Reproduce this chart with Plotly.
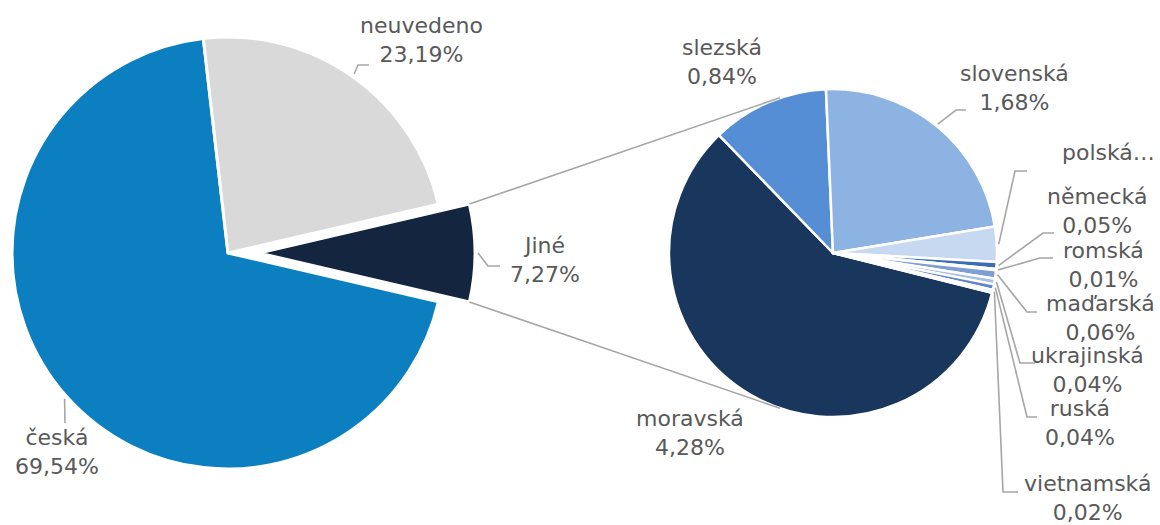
import math
import plotly.graph_objects as go

# ---------------- data ----------------
main_labels = ["Jiné", "česká", "neuvedeno"]
main_values = [7.27, 69.54, 23.19]

other_labels = ["moravská", "slezská", "slovenská", "polská", "německá",
                "romská", "maďarská", "ukrajinská", "ruská", "vietnamská"]
other_values = [4.28, 0.84, 1.68, 0.25, 0.05, 0.01, 0.06, 0.04, 0.04, 0.02]

# ---------------- styles / layout ----------------
W, H = 1160, 525
FONT = "DejaVu Sans"
FSIZE = 22
TXT = "#595959"
LINEC = "#A6A6A6"

main_colors = {"Jiné": "#13253F", "česká": "#0B7FBF", "neuvedeno": "#D9D9D9"}
other_colors = ["#19365D", "#558ED5", "#8DB3E2", "#C6D9F1", "#3A6DB5",
                "#1F3F6E", "#7F9FD3", "#A9C0E6", "#5F87C8", "#BCCDEA"]
TRANSP = "rgba(0,0,0,0)"

# pie geometry in pixels
L_CX, L_CY, L_R = 228, 253, 216
EXPLODE = 31
R_CX, R_CY, R_R = 833, 253, 164
R_ROT = 104

# label placement (text block centre, elbow points of the leader line) in px
label_layout = {
    "neuvedeno": dict(pos=(421, 40), path=[(358, 65), (369, 65)]),
    "česká": dict(pos=(57, 452), path=[(65, 423)]),
    "Jiné": dict(pos=(545, 260), path=[(488, 266), (500, 266)]),
    "moravská": dict(pos=(690, 433), path=None),
    "slezská": dict(pos=(722, 62), path=None),
    "slovenská": dict(pos=(1014, 88), path=[(956, 110), (966, 110)]),
    "polská": dict(pos=(1108, 152), path=[(1015, 171), (1027, 171)], short=True),
    "německá": dict(pos=(1097, 211), path=[(1043, 233), (1054, 233)]),
    "romská": dict(pos=(1103, 265), path=[(1040, 258), (1053, 258)]),
    "maďarská": dict(pos=(1100, 318), path=[(1027, 312), (1037, 312)]),
    "ukrajinská": dict(pos=(1087, 370), path=[(1020, 363), (1035, 363)]),
    "ruská": dict(pos=(1080, 423), path=[(1027, 417), (1037, 417)]),
    "vietnamská": dict(pos=(1087, 498), path=[(1003, 492), (1018, 492)]),
}


def px2paper(x, y):
    return x / W, 1 - y / H


def domain(cx, cy, r):
    return dict(x=[(cx - r) / W, (cx + r) / W], y=[1 - (cy + r) / H, 1 - (cy - r) / H])


def pt(cx, cy, r, ang):
    a = math.radians(ang)
    return cx + r * math.sin(a), cy - r * math.cos(a)


def mid_angles(values, rot):
    tot = sum(values)
    out, cum = [], 0
    for v in values:
        out.append(rot + 360 * (cum + v / 2) / tot)
        cum += v
    return out


def fmt(v):
    return f"{v:.2f}".replace(".", ",") + "%"


main_total = sum(main_values)
L_ROT = 90 - main_values[0] / main_total * 180

fig = go.Figure()

# main pie (the "Jiné" slice left empty here)
fig.add_trace(go.Pie(
    labels=main_labels, values=main_values, sort=False, direction="clockwise",
    rotation=L_ROT, domain=domain(L_CX, L_CY, L_R), textinfo="none",
    marker=dict(colors=[TRANSP, main_colors["česká"], main_colors["neuvedeno"]],
                line=dict(color="white", width=[0, 3, 3])),
    hoverinfo="label+value", showlegend=False))

# exploded "Jiné" slice (same pie shifted outward)
fig.add_trace(go.Pie(
    labels=main_labels, values=main_values, sort=False, direction="clockwise",
    rotation=L_ROT, domain=domain(L_CX + EXPLODE, L_CY, L_R), textinfo="none",
    marker=dict(colors=[main_colors["Jiné"], TRANSP, TRANSP],
                line=dict(color="white", width=[3, 0, 0])),
    hoverinfo="label+value", showlegend=False))

# secondary pie
fig.add_trace(go.Pie(
    labels=other_labels, values=other_values, sort=False, direction="clockwise",
    rotation=R_ROT, domain=domain(R_CX, R_CY, R_R), textinfo="none",
    marker=dict(colors=other_colors, line=dict(color="white", width=2.5)),
    hoverinfo="label+value", showlegend=False))

annotations, shapes = [], []

anchors = {}
for lab, a in zip(main_labels, mid_angles(main_values, L_ROT)):
    cx = L_CX + (EXPLODE if lab == "Jiné" else 0)
    anchors[lab] = pt(cx, L_CY, L_R + 3, a)
for lab, a in zip(other_labels, mid_angles(other_values, R_ROT)):
    anchors[lab] = pt(R_CX, R_CY, R_R + 2, a)

values_all = dict(zip(main_labels, main_values))
values_all.update(dict(zip(other_labels, other_values)))


def path_str(points):
    s = []
    for i, (x, y) in enumerate(points):
        px, py = px2paper(x, y)
        s.append(("M" if i == 0 else "L") + f"{px:.5f},{py:.5f}")
    return " ".join(s)


for lab, cfg in label_layout.items():
    x, y = px2paper(*cfg["pos"])
    text = lab + "…" if cfg.get("short") else f"{lab}<br>{fmt(values_all[lab])}"
    annotations.append(dict(x=x, y=y, xref="paper", yref="paper", text=text,
                            showarrow=False, xanchor="center", yanchor="middle",
                            font=dict(family=FONT, size=FSIZE, color=TXT)))
    if cfg["path"]:
        pts = [anchors[lab]] + cfg["path"]
        shapes.append(dict(type="path", xref="paper", yref="paper", path=path_str(pts),
                           line=dict(color=LINEC, width=1.6)))

# connector lines from the exploded slice corners, tangent to the secondary pie
jine_half = main_values[0] / main_total * 180
ex_cx = L_CX + EXPLODE
for sign in (-1, 1):
    P = pt(ex_cx, L_CY, L_R, 90 + sign * jine_half)
    dx, dy = P[0] - R_CX, P[1] - R_CY
    d = math.hypot(dx, dy)
    ux, uy = dx / d, dy / d
    th = math.acos(R_R / d)
    s = -sign
    tx = ux * math.cos(th) - s * uy * math.sin(th)
    ty = s * ux * math.sin(th) + uy * math.cos(th)
    T = (R_CX + R_R * tx, R_CY + R_R * ty)
    shapes.append(dict(type="path", xref="paper", yref="paper", path=path_str([P, T]),
                       line=dict(color=LINEC, width=1.6)))

fig.update_layout(
    width=W, height=H, autosize=False,
    margin=dict(l=0, r=0, t=0, b=0),
    paper_bgcolor="white", plot_bgcolor="white",
    showlegend=False, annotations=annotations, shapes=shapes,
    font=dict(family=FONT, size=FSIZE, color=TXT),
)

fig.write_html("out.html", config={"displayModeBar": False},
               post_script="document.body.style.margin='0';")
